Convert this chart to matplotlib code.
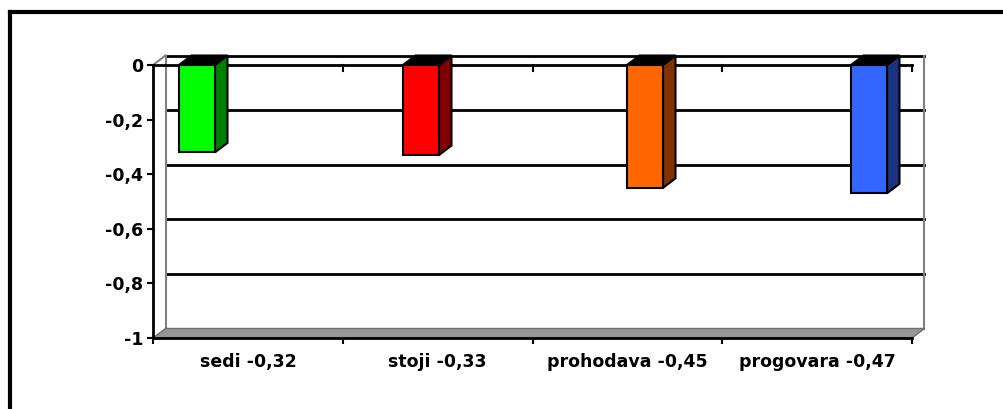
import matplotlib.pyplot as plt
from matplotlib.patches import Polygon, Rectangle
from matplotlib.lines import Line2D

plt.rcParams['font.family'] = ['DejaVu Sans']
plt.rcParams['font.weight'] = 'bold'

# data
categories = ["sedi", "stoji", "prohodava", "progovara"]
values = [-0.32, -0.33, -0.45, -0.47]
yticks = [0, -0.2, -0.4, -0.6, -0.8, -1]
front_colors = ["#00ff00", "#ff0000", "#ff6600", "#3366ff"]
side_colors = ["#008000", "#800000", "#803300", "#1a3380"]

W, H = 1004, 409
L, R, T, B = 153, 912, 65, 338   # plot area in pixels

fig = plt.figure(figsize=(W / 100, H / 100), dpi=100)
ax = fig.add_axes([L / W, 1 - B / H, (R - L) / W, (B - T) / H])
ax.set_xlim(0, 4)
ax.set_ylim(-1, 0)

px = 4 / (R - L)
py = 1 / (B - T)
dx, dy = 12.5 * px, 9.5 * py

# back wall with gridlines
for y in yticks[:-1]:
    ax.plot([dx, 4 + dx], [y + dy, y + dy], color="black", lw=2, clip_on=False, zorder=1)
for x in (dx, 4 + dx):
    ax.plot([x, x], [-1 + dy, dy], color="#808080", lw=1.5, clip_on=False, zorder=1)
ax.plot([0, dx], [0, dy], color="#808080", lw=1.5, clip_on=False, zorder=1)

# floor
floor = Polygon([(0, -1), (4, -1), (4 + dx, -1 + dy), (dx, -1 + dy)],
                facecolor="#969696", edgecolor="#6e6e6e", lw=1, clip_on=False, zorder=1)
ax.add_patch(floor)

# front zero line with category ticks
ax.plot([0, 4], [0, 0], color="black", lw=2, clip_on=False, zorder=2)
for x in range(1, 5):
    ax.plot([x, x], [0, -6 * py], color="black", lw=1.5, clip_on=False, zorder=2)

# 3d columns
w = 36 * px
start, step = 26 * px, 224 * px
for i, v in enumerate(values):
    x0 = start + i * step
    top = Polygon([(x0, 0), (x0 + w, 0), (x0 + w + dx, dy), (x0 + dx, dy)],
                  facecolor="black", edgecolor="black", lw=1.5, clip_on=False, zorder=4)
    side = Polygon([(x0 + w, 0), (x0 + w + dx, dy), (x0 + w + dx, v + dy), (x0 + w, v)],
                   facecolor=side_colors[i], edgecolor="black", lw=1.5, clip_on=False, zorder=4)
    front = Rectangle((x0, v), w, -v, facecolor=front_colors[i], edgecolor="black",
                      lw=1.5, clip_on=False, zorder=5)
    ax.add_patch(side)
    ax.add_patch(top)
    ax.add_patch(front)

# axes
for s in ("top", "right"):
    ax.spines[s].set_visible(False)
for s in ("left", "bottom"):
    ax.spines[s].set_linewidth(2)
    ax.spines[s].set_zorder(3)

ax.set_yticks(yticks)
ax.set_yticklabels([f"{t:g}".replace(".", ",") for t in yticks], fontsize=12.5, fontweight="bold")
ax.tick_params(axis="y", length=4, width=1.5, pad=3)

ax.set_xticks(range(5))
ax.set_xticklabels([])
ax.tick_params(axis="x", which="major", length=4.5, width=1.5)
ax.set_xticks([i + 0.5 for i in range(4)], minor=True)
ax.set_xticklabels([f"{c} {v:.2f}".replace(".", ",") for c, v in zip(categories, values)],
                   minor=True, fontsize=12.5, fontweight="bold")
ax.tick_params(axis="x", which="minor", length=0, pad=11)

# outer frame (top and left edges)
fig.add_artist(Line2D([10 / W, 1], [1 - 12 / H, 1 - 12 / H], color="black", lw=3,
                      transform=fig.transFigure))
fig.add_artist(Line2D([10 / W, 10 / W], [1 - 12 / H, 0], color="black", lw=3,
                      transform=fig.transFigure))

fig.savefig("out.png", dpi=100)
